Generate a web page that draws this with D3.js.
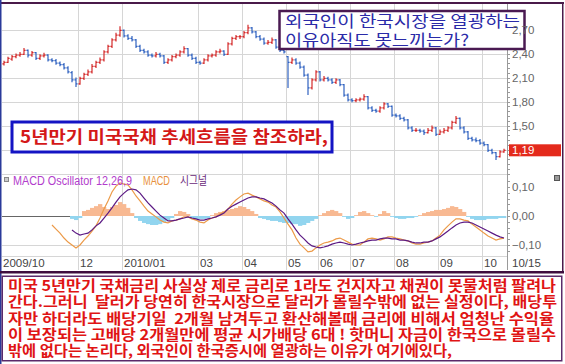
<!DOCTYPE html>
<html>
<head>
<meta charset="utf-8">
<script src="https://cdn.jsdelivr.net/npm/d3@7"></script>
<style>
  body { margin: 0; background: #fff; }
  svg { display: block; font-family: "Liberation Sans", Arial, sans-serif; }
  .kr { font-family: "Noto Sans CJK KR", sans-serif; white-space: pre; }
</style>
</head>
<body>
<svg width="565" height="364"></svg>
<script>
// US 5y treasury yield, one bar per slot
const opens = [2.27,2.29,2.33,2.36,2.38,2.39,2.44,2.38,2.41,2.34,
  2.37,2.38,2.32,2.31,2.28,2.26,2.22,2.16,2.07,2.02,
  2.09,2.14,2.17,2.24,2.29,2.32,2.42,2.49,2.57,2.63,
  2.69,2.62,2.59,2.57,2.49,2.44,2.42,2.38,2.37,2.39,
  2.37,2.29,2.32,2.36,2.38,2.42,2.46,2.38,2.34,2.29,
  2.28,2.32,2.37,2.38,2.42,2.43,2.39,2.52,2.59,2.61,
  2.61,2.66,2.72,2.67,2.61,2.58,2.53,2.54,2.57,2.48,
  2.44,2.36,2.29,2.32,2.28,2.23,2.13,1.97,2.07,2.17,
  2.07,2.09,2.07,2.04,2.07,2.01,1.88,1.82,1.81,1.82,
  1.83,1.86,1.72,1.69,1.68,1.72,1.77,1.74,1.63,1.62,
  1.59,1.57,1.47,1.44,1.44,1.43,1.41,1.44,1.47,1.39,
  1.42,1.44,1.47,1.54,1.59,1.47,1.42,1.34,1.32,1.31,
  1.28,1.26,1.19,1.16,1.11,1.17];
const highs = [2.31,2.36,2.38,2.40,2.42,2.47,2.45,2.43,2.42,2.39,
  2.41,2.39,2.34,2.33,2.30,2.28,2.24,2.18,2.10,2.11,
  2.16,2.20,2.27,2.31,2.35,2.44,2.51,2.59,2.66,2.74,
  2.70,2.64,2.62,2.58,2.51,2.46,2.44,2.40,2.42,2.41,
  2.38,2.34,2.38,2.40,2.44,2.49,2.47,2.40,2.36,2.31,
  2.34,2.39,2.40,2.44,2.46,2.44,2.54,2.61,2.63,2.63,
  2.68,2.76,2.73,2.68,2.63,2.60,2.57,2.60,2.58,2.50,
  2.46,2.37,2.35,2.34,2.30,2.25,2.15,2.09,2.19,2.18,
  2.12,2.11,2.09,2.09,2.08,2.02,1.90,1.84,1.84,1.85,
  1.89,1.87,1.74,1.71,1.74,1.79,1.78,1.75,1.65,1.64,
  1.61,1.58,1.49,1.47,1.46,1.45,1.47,1.50,1.48,1.45,
  1.47,1.49,1.56,1.62,1.60,1.49,1.43,1.36,1.35,1.33,
  1.30,1.27,1.21,1.17,1.19,1.21];
const lows = [2.25,2.28,2.31,2.34,2.36,2.38,2.35,2.36,2.32,2.32,
  2.35,2.30,2.29,2.26,2.24,2.20,2.15,2.04,1.98,2.01,
  2.07,2.12,2.15,2.22,2.27,2.30,2.40,2.47,2.55,2.61,
  2.60,2.57,2.55,2.47,2.42,2.40,2.36,2.35,2.35,2.35,
  2.27,2.27,2.30,2.34,2.36,2.40,2.36,2.32,2.27,2.26,
  2.27,2.30,2.35,2.36,2.40,2.37,2.38,2.50,2.57,2.58,
  2.59,2.64,2.65,2.59,2.56,2.51,2.51,2.52,2.46,2.42,
  2.40,1.97,2.27,2.26,2.21,2.11,1.88,1.95,2.05,2.05,
  2.05,2.05,2.02,2.02,1.99,1.86,1.80,1.79,1.79,1.80,
  1.81,1.70,1.67,1.66,1.66,1.70,1.72,1.61,1.60,1.57,
  1.55,1.45,1.42,1.42,1.41,1.38,1.40,1.42,1.37,1.38,
  1.40,1.42,1.45,1.52,1.45,1.40,1.32,1.30,1.29,1.26,
  1.24,1.17,1.14,1.07,1.10,1.16];
const closes = [2.29,2.34,2.36,2.38,2.39,2.44,2.38,2.41,2.34,2.37,
  2.38,2.32,2.31,2.28,2.26,2.22,2.17,2.07,2.02,2.09,
  2.14,2.17,2.24,2.29,2.32,2.42,2.49,2.57,2.63,2.69,
  2.62,2.59,2.57,2.49,2.44,2.42,2.38,2.37,2.39,2.37,
  2.29,2.32,2.36,2.38,2.42,2.46,2.38,2.34,2.29,2.28,
  2.32,2.37,2.38,2.42,2.43,2.39,2.52,2.59,2.61,2.61,
  2.66,2.72,2.67,2.61,2.58,2.53,2.54,2.57,2.48,2.44,
  2.42,2.29,2.32,2.28,2.23,2.13,1.97,2.07,2.17,2.07,
  2.09,2.07,2.04,2.07,2.01,1.88,1.82,1.81,1.82,1.83,
  1.86,1.72,1.69,1.68,1.72,1.77,1.74,1.63,1.62,1.59,
  1.57,1.47,1.44,1.44,1.43,1.41,1.44,1.47,1.39,1.42,
  1.44,1.47,1.54,1.59,1.47,1.42,1.34,1.32,1.31,1.28,
  1.26,1.19,1.16,1.11,1.17,1.19];

// MACD panel (each series begins at its own bar index)
const macdStart = 12;
const macdLine = [-0.031,-0.045,-0.059,-0.076,-0.090,-0.100,-0.110,-0.100,-0.083,-0.069,
  -0.052,-0.034,-0.007,0.024,0.052,0.083,0.103,0.114,0.110,0.107,
  0.090,0.069,0.052,0.034,0.017,0.007,-0.003,-0.014,-0.021,-0.024,
  -0.017,-0.014,-0.010,-0.003,-0.003,-0.010,-0.014,-0.021,-0.024,-0.014,
  -0.007,-0.003,0.007,0.014,0.024,0.041,0.055,0.066,0.076,0.079,
  0.072,0.066,0.059,0.052,0.048,0.038,0.031,0.014,-0.007,-0.028,
  -0.048,-0.076,-0.097,-0.110,-0.124,-0.121,-0.110,-0.100,-0.093,-0.090,
  -0.086,-0.079,-0.076,-0.083,-0.090,-0.097,-0.100,-0.100,-0.090,-0.079,
  -0.076,-0.079,-0.083,-0.079,-0.072,-0.072,-0.076,-0.079,-0.083,-0.086,
  -0.093,-0.097,-0.097,-0.093,-0.090,-0.086,-0.076,-0.066,-0.048,-0.034,
  -0.021,-0.010,-0.010,-0.014,-0.017,-0.028,-0.038,-0.048,-0.059,-0.069,
  -0.076,-0.083,-0.079,-0.076];
const signalStart = 17;
const signalLine = [-0.048,-0.059,-0.066,-0.062,-0.059,-0.048,-0.034,-0.024,-0.007,0.010,
  0.028,0.048,0.066,0.079,0.090,0.093,0.090,0.079,0.062,0.045,
  0.031,0.017,0.003,-0.007,-0.017,-0.017,-0.014,-0.010,-0.007,-0.003,
  -0.007,-0.010,-0.014,-0.014,-0.010,-0.007,-0.003,0.003,0.010,0.024,
  0.034,0.041,0.048,0.055,0.062,0.066,0.066,0.062,0.059,0.052,
  0.045,0.034,0.021,0.010,-0.010,-0.028,-0.048,-0.066,-0.079,-0.093,
  -0.103,-0.107,-0.110,-0.107,-0.103,-0.097,-0.093,-0.090,-0.093,-0.097,
  -0.100,-0.097,-0.093,-0.090,-0.086,-0.083,-0.083,-0.079,-0.076,-0.076,
  -0.079,-0.079,-0.083,-0.083,-0.086,-0.090,-0.093,-0.093,-0.090,-0.090,
  -0.086,-0.079,-0.072,-0.062,-0.052,-0.041,-0.031,-0.024,-0.021,-0.021,
  -0.024,-0.031,-0.038,-0.045,-0.052,-0.059,-0.066,-0.072,-0.076];
const oscStart = 17;
const oscValues = [-0.010,-0.014,-0.007,0.017,0.021,0.028,0.034,0.041,0.031,0.024,
  0.031,0.038,0.048,0.041,0.028,0.010,-0.007,-0.017,-0.024,-0.028,
  -0.031,-0.031,-0.028,-0.021,-0.014,-0.007,0.007,0.017,0.014,0.007,
  -0.007,-0.010,-0.010,-0.010,-0.007,0.003,0.010,0.014,0.017,0.021,
  0.024,0.028,0.034,0.031,0.024,0.017,0.007,-0.007,-0.010,-0.014,
  -0.017,-0.017,-0.021,-0.024,-0.024,-0.028,-0.028,-0.034,-0.031,-0.024,
  -0.017,-0.010,0.003,0.010,0.017,0.021,0.017,0.010,-0.003,-0.010,
  -0.007,0.003,0.014,0.017,0.010,0.003,-0.003,0.007,0.017,0.010,
  -0.003,-0.007,-0.010,-0.010,-0.007,-0.007,-0.003,0.003,0.010,0.014,
  0.017,0.021,0.021,0.024,0.028,0.034,0.031,0.024,0.014,-0.003,
  -0.010,-0.014,-0.014,-0.014,-0.010,-0.010,-0.010,-0.007,-0.007];

const monthLabels = ["2009/10","12","2010/01","03","04","05","06","07","08","09","10"];
const monthIndex  = [0, 19, 30, 49, 60, 71, 79, 87, 98, 109, 120];
const priceTicks = [2.70, 2.40, 2.10, 1.80, 1.50];
const priceGrid  = [2.70, 2.40, 2.10, 1.80, 1.50, 1.20, 0.90];
const macdTicks = [0.10, 0.00, -0.10];
const lastPrice = 1.19;
const lastDate = "10/15";

const calloutTop = ["외국인이 한국시장을 열광하는", "이유아직도 못느끼는가?"];
const calloutMid = "5년만기 미국국채 추세흐름을 참조하라,";
const noteLines = [
  "미국 5년만기 국채금리 사실상 제로 금리로 1라도 건지자고 채권이 못물처럼 팔려나",
  "간다.그러니  달러가 당연히 한국시장으로 달러가 몰릴수밖에 없는 실정이다, 배당투",
  "자만 하더라도 배당기일  2개월 남겨두고 환산해볼때 금리에 비해서 엄청난 수익율",
  "이 보장되는 고배당 2개월만에 평균 시가배당 6대 ! 핫머니 자금이 한국으로 몰릴수",
  "밖에 없다는 논리다, 외국인이 한국증시에 열광하는 이유가 여기에있다,"
];

const svg = d3.select("svg");
const fmt = d3.formatLocale({decimal: ",", thousands: ".", grouping: [3], currency: ["", ""], minus: "\u2212"}).format(".2f");

const axisX = 507.5, plotLeft = 2;
const x = d3.scaleLinear().domain([0, 125]).range([4, 504]);
const y = d3.scaleLinear().domain([2.70, 1.50]).range([29.5, 125.5]);
const ym = d3.scaleLinear().domain([0.10, -0.10]).range([187, 245]);

svg.append("rect").attr("width", 565).attr("height", 364).attr("fill", "#fff");

// vertical month grid + horizontal grid
const grid = svg.append("g").attr("stroke", "#d6d6d6").attr("stroke-width", 1);
monthIndex.slice(1).forEach(i => {
  const gx = Math.round(x(i) - 2) + 0.5;
  grid.append("line").attr("x1", gx).attr("x2", gx).attr("y1", 4).attr("y2", 270);
});
priceGrid.forEach(v => {
  const gy = Math.round(y(v)) + 0.5;
  grid.append("line").attr("x1", plotLeft).attr("x2", axisX).attr("y1", gy).attr("y2", gy);
});
[-0.10].forEach(v => {
  const gy = Math.round(ym(v)) + 0.5;
  grid.append("line").attr("x1", plotLeft).attr("x2", axisX).attr("y1", gy).attr("y2", gy);
});
grid.append("line").attr("x1", plotLeft).attr("x2", axisX).attr("y1", 256.5).attr("y2", 256.5);

// right axis line + minor ticks
const ax = svg.append("g").attr("stroke", "#9a9a9a");
ax.append("line").attr("x1", axisX).attr("x2", axisX).attr("y1", 4).attr("y2", 270);
d3.range(0.90, 2.85, 0.06).forEach(v => {
  ax.append("line").attr("x1", axisX).attr("x2", axisX + 2.5)
    .attr("y1", Math.round(y(v)) + 0.5).attr("y2", Math.round(y(v)) + 0.5);
});
d3.range(-0.14, 0.15, 0.02).forEach(v => {
  if (ym(v) < 176 || ym(v) > 255) return;
  ax.append("line").attr("x1", axisX).attr("x2", axisX + 2.5)
    .attr("y1", Math.round(ym(v)) + 0.5).attr("y2", Math.round(ym(v)) + 0.5);
});

// price bars
const bars = svg.append("g").attr("stroke-width", 1.2);
closes.forEach((c, i) => {
  const cx = x(i);
  const col = c >= opens[i] ? "#d42a2a" : "#2f62c0";
  const g = bars.append("g").attr("stroke", col);
  g.append("line").attr("x1", cx).attr("x2", cx).attr("y1", y(highs[i])).attr("y2", y(lows[i]));
  g.append("line").attr("x1", cx - 1.6).attr("x2", cx).attr("y1", y(opens[i])).attr("y2", y(opens[i]));
  g.append("line").attr("x1", cx).attr("x2", cx + 1.6).attr("y1", y(c)).attr("y2", y(c));
});

// MACD oscillator histogram
svg.append("line").attr("x1", plotLeft).attr("x2", x(oscStart) - 2)
  .attr("y1", Math.round(ym(0)) + 0.5).attr("y2", Math.round(ym(0)) + 0.5).attr("stroke", "#666");
svg.append("g").selectAll("rect").data(oscValues).join("rect")
  .attr("x", (d, k) => x(oscStart + k) - 2)
  .attr("width", 4.3)
  .attr("y", d => Math.min(ym(d), ym(0)))
  .attr("height", d => Math.abs(ym(d) - ym(0)))
  .attr("fill", d => d >= 0 ? "#f8b992" : "#92d5ef");

const lineGen = start => d3.line().x((d, k) => x(start + k)).y(d => ym(d));
svg.append("path").attr("d", lineGen(macdStart)(macdLine))
  .attr("fill", "none").attr("stroke", "#ec9a48").attr("stroke-width", 1.2);
svg.append("path").attr("d", lineGen(signalStart)(signalLine))
  .attr("fill", "none").attr("stroke", "#5c1a84").attr("stroke-width", 1.2);

// MACD legend
svg.append("rect").attr("x", 4.5).attr("y", 177.5).attr("width", 4).attr("height", 4)
  .attr("fill", "#ccc").attr("stroke", "#888");
svg.append("text").attr("x", 13).attr("y", 184.5).attr("font-size", 12.5).attr("fill", "#b23ccc")
  .attr("textLength", 119).attr("lengthAdjust", "spacingAndGlyphs").text("MACD Oscillator 12,26,9");
svg.append("text").attr("x", 143).attr("y", 184.5).attr("font-size", 12.5).attr("fill", "#e8913c")
  .attr("textLength", 27).attr("lengthAdjust", "spacingAndGlyphs").text("MACD");
svg.append("text").attr("class", "kr").attr("x", 180).attr("y", 185).attr("font-size", 12).attr("fill", "#6a2a7a")
  .attr("textLength", 27).attr("lengthAdjust", "spacingAndGlyphs").text("시그널");
svg.append("rect").attr("x", 554.5).attr("y", 175.5).attr("width", 5).attr("height", 5)
  .attr("fill", "#999").attr("stroke", "#555");

// date axis
const dl = svg.append("g").attr("font-size", 11.5).attr("fill", "#444");
monthLabels.forEach((t, k) => {
  const gx = k === 0 ? 3 : Math.round(x(monthIndex[k]) - 2) + 2;
  dl.append("text").attr("x", gx).attr("y", 266.5).text(t);
});
dl.append("text").attr("x", 512).attr("y", 266.5).text(lastDate);

// borders
svg.append("rect").attr("x", 0).attr("y", 2).attr("width", 564).attr("height", 2).attr("fill", "#4a1a4a");
svg.append("rect").attr("x", 0).attr("y", 0).attr("width", 1.5).attr("height", 364).attr("fill", "#2a3a9a");
svg.append("rect").attr("x", 562).attr("y", 2).attr("width", 1.5).attr("height", 270).attr("fill", "#4a1a4a");
svg.append("rect").attr("x", 0).attr("y", 271).attr("width", 564).attr("height", 2.5).attr("fill", "#3e0e3e");

// top-right callout
svg.append("rect").attr("x", 279.5).attr("y", 11).attr("width", 245).attr("height", 38)
  .attr("fill", "#fff").attr("stroke", "#4a1a52").attr("stroke-width", 2.5);
const topText = svg.append("text").attr("class", "kr").attr("font-size", 16).attr("fill", "#2a2aa8");
calloutTop.forEach((t, k) => {
  topText.append("tspan").attr("x", 285).attr("y", 26.5 + k * 19.5)
    .attr("textLength", k === 0 ? 235 : 184).attr("lengthAdjust", "spacingAndGlyphs").text(t);
});

// blue callout
svg.append("rect").attr("x", 12).attr("y", 122).attr("width", 320).attr("height", 30)
  .attr("fill", "#fff").attr("stroke", "#1414c4").attr("stroke-width", 3);
svg.append("text").attr("class", "kr").attr("x", 20).attr("y", 143).attr("font-size", 17)
  .attr("font-weight", "bold").attr("fill", "#d41818")
  .attr("textLength", 308).attr("lengthAdjust", "spacingAndGlyphs").text(calloutMid);

// axis labels (drawn over the callout edge like the original)
const lbl = svg.append("g").attr("font-size", 11.5).attr("fill", "#666");
priceTicks.forEach(v => {
  lbl.append("text").attr("x", 512).attr("y", y(v)).attr("dy", "0.36em").text(fmt(v));
});
macdTicks.forEach(v => {
  lbl.append("text").attr("x", 512).attr("y", ym(v)).attr("dy", "0.36em").text(fmt(v));
});

// last price tag
svg.append("rect").attr("x", 509).attr("y", y(lastPrice) - 6).attr("width", 52).attr("height", 12).attr("fill", "#e42a1c");
svg.append("text").attr("x", 512).attr("y", y(lastPrice)).attr("dy", "0.36em")
  .attr("font-size", 11.5).attr("fill", "#fff").text(fmt(lastPrice));

// note box: one paragraph, one line per tspan
svg.append("rect").attr("x", 2.25).attr("y", 276.25).attr("width", 559.5).attr("height", 84.5)
  .attr("fill", "#fff").attr("stroke", "#5a2a6a").attr("stroke-width", 1.5);
const lens = [548, 549, 546, 548, 444];
const note = svg.append("text").attr("class", "kr")
  .attr("font-size", 14.5).attr("font-weight", "bold").attr("fill", "#e01414");
noteLines.forEach((t, k) => {
  note.append("tspan").attr("x", 8).attr("y", 291 + k * 16.3)
    .attr("textLength", lens[k]).attr("lengthAdjust", "spacingAndGlyphs").text(t);
});
</script>
</body>
</html>
